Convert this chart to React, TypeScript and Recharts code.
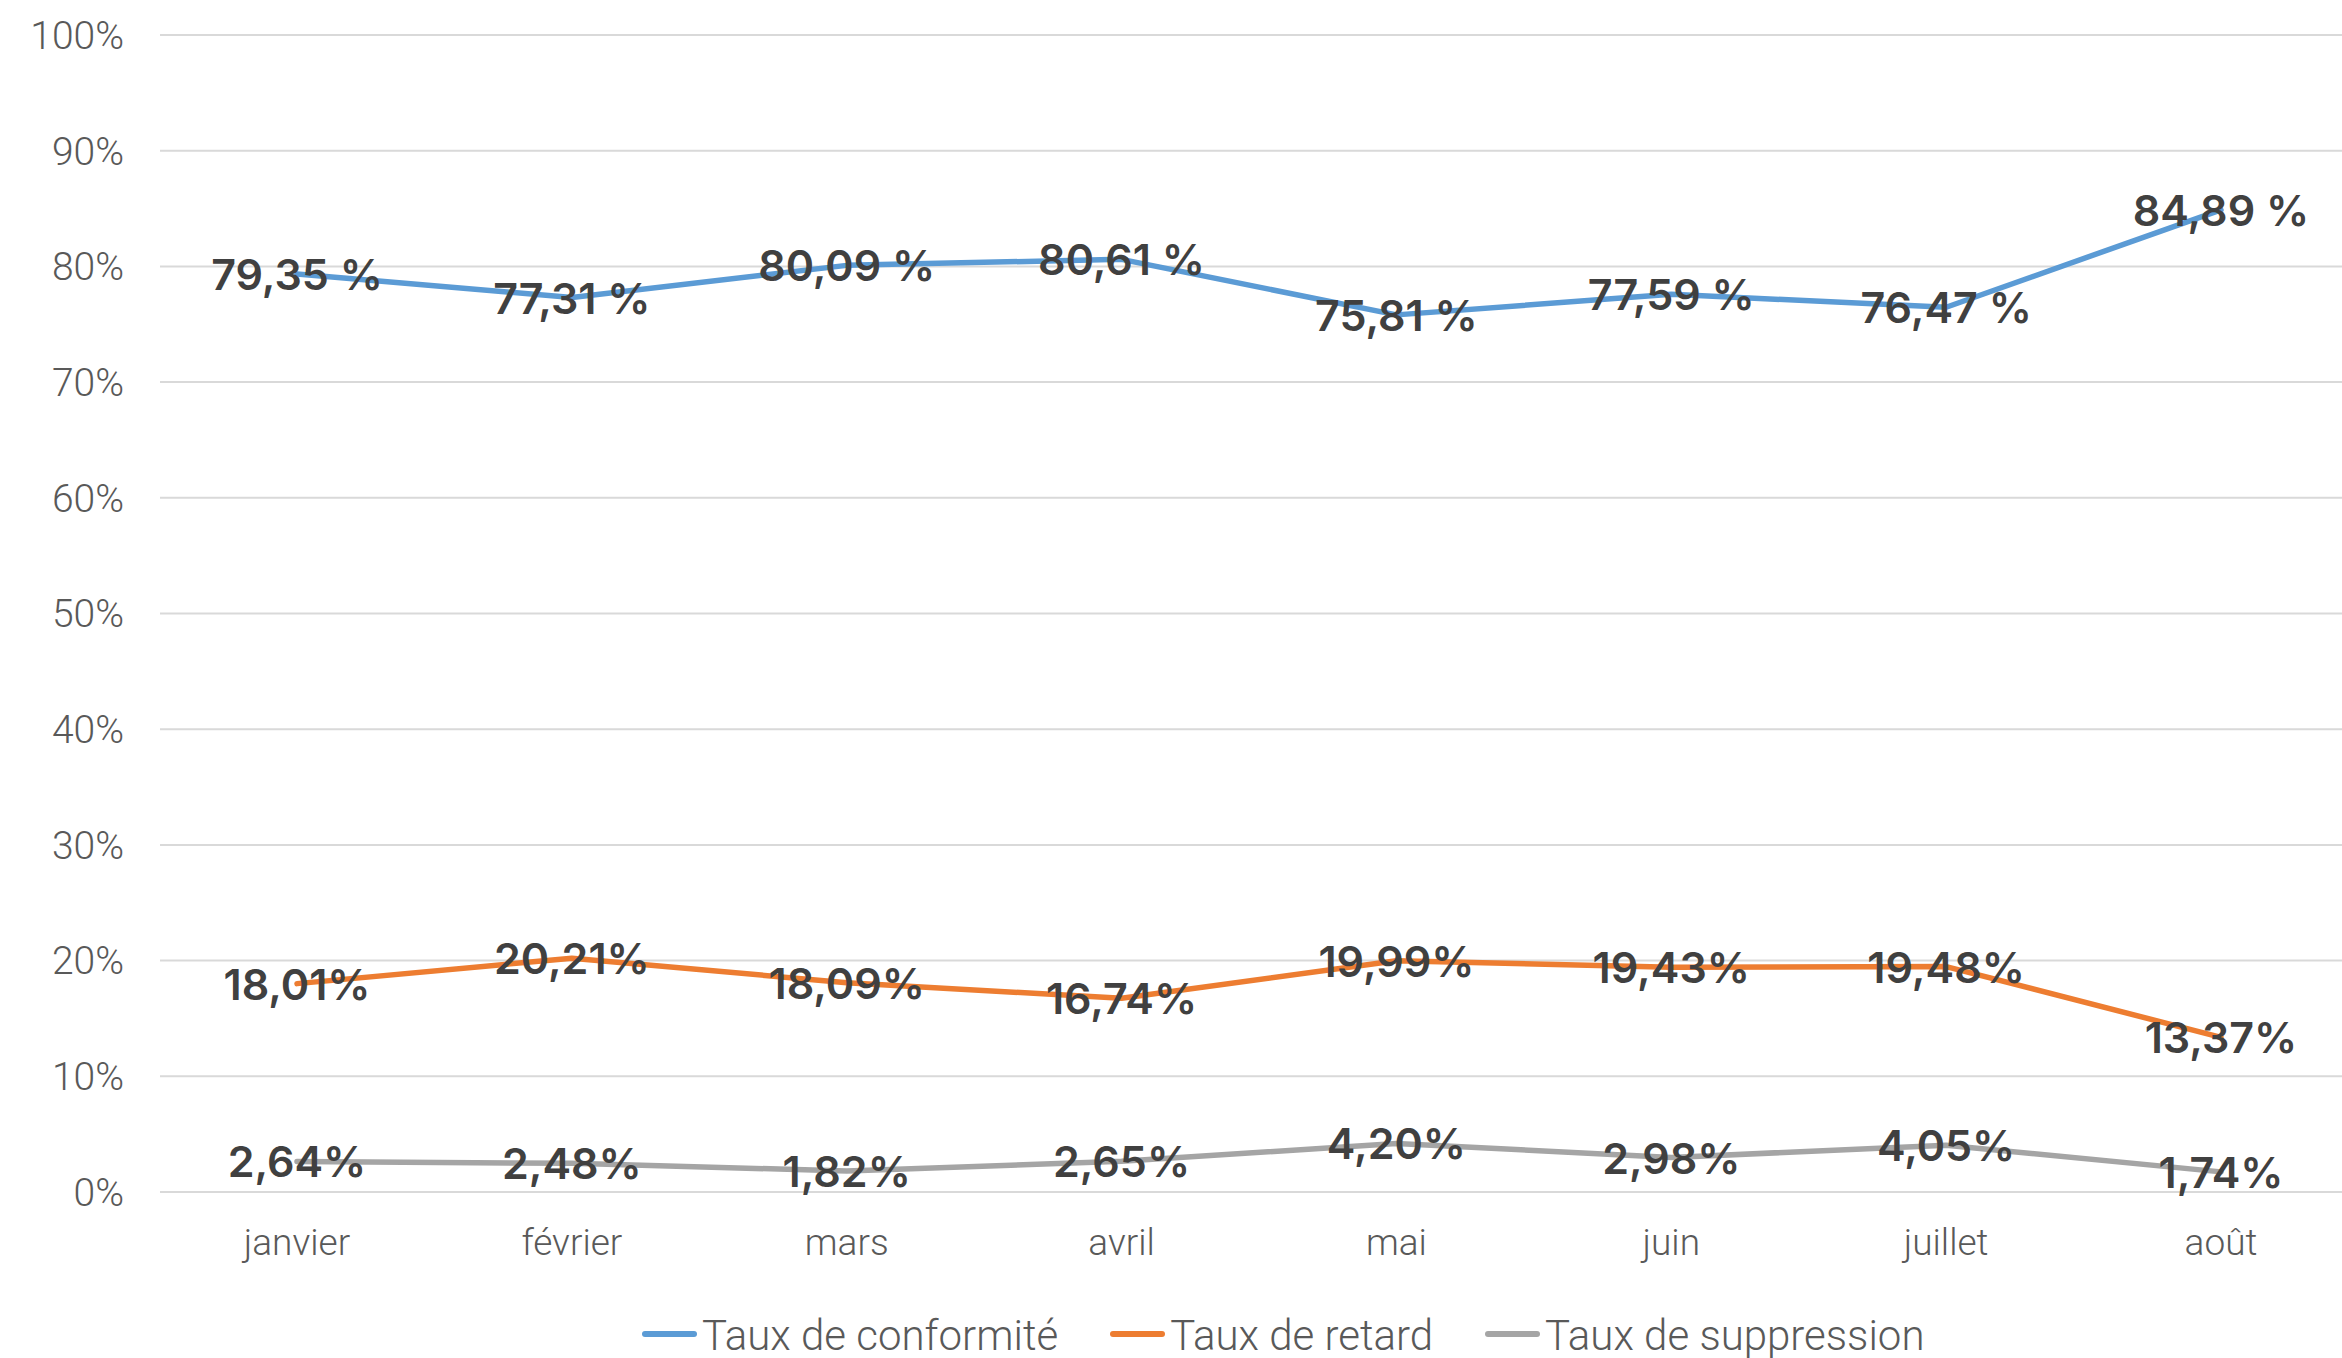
import { CartesianGrid, LabelList, Legend, Line, LineChart, XAxis, YAxis } from 'recharts';

const months = ['janvier', 'février', 'mars', 'avril', 'mai', 'juin', 'juillet', 'août'];
const conformite = [79.35, 77.31, 80.09, 80.61, 75.81, 77.59, 76.47, 84.89];
const retard = [18.01, 20.21, 18.09, 16.74, 19.99, 19.43, 19.48, 13.37];
const suppression = [2.64, 2.48, 1.82, 2.65, 4.2, 2.98, 4.05, 1.74];
const yTicks = [0, 10, 20, 30, 40, 50, 60, 70, 80, 90, 100];

const data = months.map((month, i) => ({
  month,
  conformite: conformite[i],
  retard: retard[i],
  suppression: suppression[i],
}));

const series = [
  { key: 'conformite', name: 'Taux de conformité', color: '#5B9BD5', suffix: ' %' },
  { key: 'retard', name: 'Taux de retard', color: '#ED7D31', suffix: '%' },
  { key: 'suppression', name: 'Taux de suppression', color: '#A5A5A5', suffix: '%' },
];

const xFont = { fontFamily: 'Roboto', fontWeight: 300, fontSize: 37, fill: '#595959' };
const yFont = { fontFamily: 'Roboto', fontWeight: 300, fontSize: 39, fill: '#595959' };

const fmt = (v: number, suffix: string) => v.toFixed(2).replace('.', ',') + suffix;

function valueLabel(suffix: string) {
  return (props: any) => {
    const { x, y, value } = props;
    return (
      <text
        x={x}
        y={y}
        dy={16}
        textAnchor="middle"
        fontFamily="Inter"
        fontWeight={600}
        fontSize={43}
        fill="#404040"
      >
        {fmt(value, suffix)}
      </text>
    );
  };
}

function LegendContent(props: any) {
  const { payload = [] } = props;
  return (
    <div style={{ height: 48, display: 'flex', alignItems: 'center', paddingLeft: 642 }}>
      {payload.map((entry: any) => (
        <div key={entry.value} style={{ display: 'flex', alignItems: 'center', marginRight: 52 }}>
          <span
            style={{
              display: 'inline-block',
              width: 55,
              height: 6,
              borderRadius: 3,
              background: entry.color,
              marginRight: 5,
            }}
          />
          <span
            style={{
              fontFamily: 'Roboto',
              fontWeight: 300,
              fontSize: 42,
              lineHeight: '48px',
              color: '#595959',
              paddingTop: 3,
            }}
          >
            {entry.value}
          </span>
        </div>
      ))}
    </div>
  );
}

export default function App() {
  return (
    <div style={{ position: 'fixed', left: 0, top: 0, width: 2342, height: 1358, overflow: 'hidden', background: '#fff' }}>
      <LineChart width={2358} height={1358} data={data} margin={{ top: 35, right: 0, bottom: 0, left: 0 }}>
        <CartesianGrid vertical={false} stroke="#D9D9D9" strokeWidth={2} />
        <XAxis
          dataKey="month"
          axisLine={false}
          tickLine={false}
          tickSize={0}
          tickMargin={37}
          height={118}
          padding={{ left: 137, right: 137 }}
          tick={xFont}
          interval={0}
        />
        <YAxis
          domain={[0, 100]}
          ticks={yTicks}
          width={160}
          axisLine={false}
          tickLine={false}
          tickSize={0}
          tickMargin={36}
          tick={yFont}
          tickFormatter={(v: number) => `${v}%`}
        />
        <Legend verticalAlign="bottom" content={<LegendContent />} />
        {series.map((s) => (
          <Line
            key={s.key}
            type="linear"
            dataKey={s.key}
            name={s.name}
            stroke={s.color}
            strokeWidth={5.5}
            strokeLinecap="round"
            strokeLinejoin="round"
            dot={false}
            activeDot={false}
            isAnimationActive={false}
          >
            <LabelList dataKey={s.key} content={valueLabel(s.suffix)} />
          </Line>
        ))}
      </LineChart>
    </div>
  );
}
